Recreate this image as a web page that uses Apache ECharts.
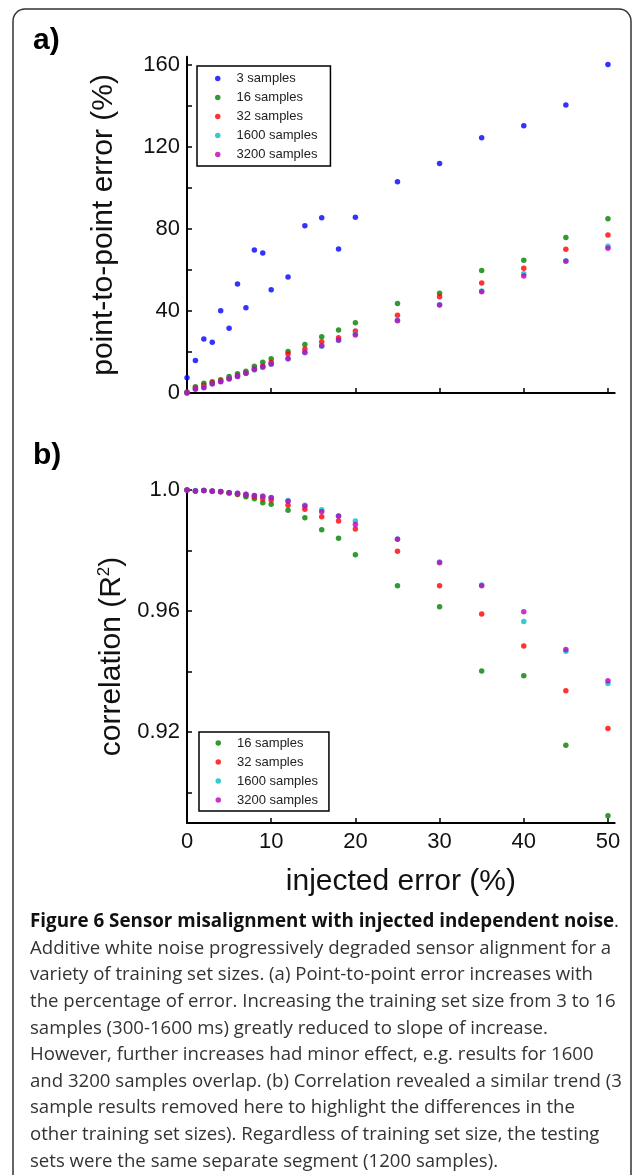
<!DOCTYPE html>
<html>
<head>
<meta charset="utf-8">
<script src="https://cdn.jsdelivr.net/npm/echarts@6/dist/echarts.min.js"></script>
<style>
html,body{margin:0;padding:0;background:#fff;}
#chart{width:634px;height:1175px;}
</style>
</head>
<body>
<div id="chart"></div>
<script>
// injected error (%) values
const injected = [0,1,2,3,4,5,6,7,8,9,10,12,14,16,18,20,25,30,35,40,45,50];

// panel a: point-to-point error (%)
const errA3    = [7.5,15.8,26.3,24.7,40.1,31.6,53.2,41.6,69.8,68.3,50.4,56.6,81.6,85.5,70.2,85.7,103.1,112.0,124.5,130.4,140.5,160.3];
const errA16   = [0.5,3.0,4.7,5.5,6.5,8.0,9.4,10.6,13.0,15.0,16.7,20.2,23.7,27.5,30.7,34.3,43.6,48.6,59.7,64.7,75.9,85.0];
const errA32   = [0.3,2.5,3.8,5.0,6.0,7.2,8.5,9.8,11.5,13.0,15.0,19.0,21.5,25.0,27.0,30.2,37.9,47.0,53.7,60.8,70.1,77.1];
const errA1600 = [0,1.8,2.8,4.4,5.6,6.9,8.1,9.6,11.2,12.5,14.0,16.6,19.6,22.8,25.6,28.8,35.5,43.0,49.8,58.2,64.5,71.6];
const errA3200 = [0,1.9,2.6,4.5,5.5,6.8,8.0,9.6,11.7,12.8,14.2,16.8,19.9,23.1,25.9,28.3,35.2,42.9,49.4,57.1,64.3,70.6];

// panel b: correlation (R^2)
const corB16   = [1.0,0.9997,0.9998,0.9996,0.9994,0.9990,0.9985,0.9978,0.9971,0.9958,0.9953,0.9933,0.9908,0.9869,0.9841,0.9786,0.9684,0.9614,0.9402,0.9386,0.9157,0.8924];
const corB32   = [1.0,0.9997,0.9998,0.9996,0.9994,0.9991,0.9987,0.9983,0.9978,0.9970,0.9967,0.9950,0.9936,0.9912,0.9898,0.9871,0.9798,0.9684,0.9590,0.9485,0.9337,0.9212];
const corB1600 = [1.0,0.9998,0.9998,0.9997,0.9995,0.9992,0.9989,0.9986,0.9982,0.9979,0.9975,0.9965,0.9950,0.9935,0.9915,0.9898,0.9838,0.9762,0.9686,0.9566,0.9467,0.9361];
const corB3200 = [1.0,0.9997,0.9998,0.9997,0.9995,0.9991,0.9989,0.9986,0.9982,0.9979,0.9974,0.9963,0.9947,0.9928,0.9913,0.9886,0.9837,0.9760,0.9684,0.9598,0.9473,0.9370];

// tick values / labels
const xTicks = [0,10,20,30,40,50];
const yTicksA = [0,20,40,60,80,100,120,140,160];
const yLabelsA = [0,40,80,120,160];
const yTicksB = [0.90,0.92,0.94,0.96,0.98,1.0];
const yLabelsB = [0.92,0.96,1.0];

const namesA = ['3 samples','16 samples','32 samples','1600 samples','3200 samples'];
const namesB = ['16 samples','32 samples','1600 samples','3200 samples'];
const colors = {'3 samples':'#0000ff','16 samples':'#008000','32 samples':'#ff0000','1600 samples':'#00bfbf','3200 samples':'#bf00bf'};

const captionTitle = 'Figure 6 Sensor misalignment with injected independent noise';
const caption = [
  'Additive white noise progressively degraded sensor alignment for a',
  'variety of training set sizes. (a) Point-to-point error increases with',
  'the percentage of error. Increasing the training set size from 3 to 16',
  'samples (300-1600 ms) greatly reduced to slope of increase.',
  'However, further increases had minor effect, e.g. results for 1600',
  'and 3200 samples overlap. (b) Correlation revealed a similar trend (3',
  'sample results removed here to highlight the differences in the',
  'other training set sizes). Regardless of training set size, the testing',
  'sets were the same separate segment (1200 samples).'
];

const pair = arr => injected.map((x,i)=>[x,arr[i]]);
const AF = 'Liberation Sans, Arial, sans-serif';

function axisCommon(){
  return {
    type:'value',
    axisLine:{show:true,onZero:false,lineStyle:{color:'#000',width:2}},
    splitLine:{show:false},
  };
}

const seriesA = [errA3,errA16,errA32,errA1600,errA3200].map((d,i)=>({
  name:namesA[i], type:'scatter', xAxisIndex:0, yAxisIndex:0, symbolSize:5.5,
  itemStyle:{color:colors[namesA[i]]}, data:pair(d), clip:false
}));
const seriesB = [corB16,corB32,corB1600,corB3200].map((d,i)=>({
  name:namesB[i], type:'scatter', xAxisIndex:1, yAxisIndex:1, symbolSize:5.5,
  itemStyle:{color:colors[namesB[i]]}, data:pair(d), clip:false
}));

const legendCommon = {
  orient:'vertical', icon:'circle', itemWidth:5.5, itemHeight:5.5, itemGap:6,
  backgroundColor:'#fff', borderColor:'#000', borderWidth:1.5, borderRadius:0,
  textStyle:{fontFamily:AF,fontSize:13,color:'#222',lineHeight:13,padding:[0,0,0,11]},
  selectedMode:false
};

const capTop = 948.6, capStep = 26.6;
const graphics = [
  {type:'rect', shape:{x:13,y:9,width:618,height:1220,r:12}, style:{fill:'none',stroke:'#333',lineWidth:1.5}, z:-1},
  {type:'text', left:33, top:26, style:{text:'a)', font:'bold 30px Liberation Sans, Arial, sans-serif', fill:'#000'}},
  {type:'text', left:33, top:441, style:{text:'b)', font:'bold 30px Liberation Sans, Arial, sans-serif', fill:'#000'}},
  {type:'text', x:30, y:922, style:{
    text:'{b|' + captionTitle + '}.',
    verticalAlign:'middle', font:'18.5px Open Sans, sans-serif', fill:'#222',
    rich:{b:{fontWeight:'bold', fontFamily:'Open Sans, sans-serif', fontSize:18.8, fill:'#111'}}
  }}
];
caption.forEach((line,i)=>{
  graphics.push({type:'text', x:30, y:capTop+i*capStep, style:{
    text:line, verticalAlign:'middle', font:'18.6px Open Sans, sans-serif', fill:'#333'
  }});
});

const option = {
  backgroundColor:'#fff',
  animation:false,
  grid:[
    {left:187, top:56.8, width:427.7, height:336.2},
    {left:187, top:490, width:427.7, height:333}
  ],
  xAxis:[
    Object.assign(axisCommon(),{gridIndex:0,min:0,max:50.8,
      axisTick:{show:true,inside:true,length:5,customValues:xTicks,lineStyle:{color:'#000',width:1.5}},
      axisLabel:{show:false}}),
    Object.assign(axisCommon(),{gridIndex:1,min:0,max:50.8,
      axisTick:{show:true,inside:true,length:5,customValues:xTicks,lineStyle:{color:'#000',width:1.5}},
      axisLabel:{show:true,customValues:xTicks,fontFamily:AF,fontSize:22,color:'#111',margin:8},
      name:'injected error (%)', nameLocation:'middle', nameGap:44,
      nameTextStyle:{fontFamily:AF,fontSize:30,color:'#111'}})
  ],
  yAxis:[
    Object.assign(axisCommon(),{gridIndex:0,min:0,max:164,
      axisTick:{show:true,inside:true,length:5,customValues:yTicksA,lineStyle:{color:'#000',width:1.5}},
      axisLabel:{show:true,customValues:yLabelsA,fontFamily:AF,fontSize:22,color:'#111',margin:7},
      name:'point-to-point error (%)', nameLocation:'middle', nameGap:68, nameRotate:90,
      nameTextStyle:{fontFamily:AF,fontSize:30,color:'#111'}}),
    Object.assign(axisCommon(),{gridIndex:1,min:0.89,max:1.0,
      axisTick:{show:true,inside:true,length:5,customValues:yTicksB,lineStyle:{color:'#000',width:1.5}},
      axisLabel:{show:true,customValues:yLabelsB,fontFamily:AF,fontSize:22,color:'#111',margin:7,
        formatter:v=> (Math.abs(v-1)<1e-9 ? '1.0' : v.toFixed(2))},
      name:'correlation (R{sup|2})', nameLocation:'middle', nameGap:58, nameRotate:90,
      nameTextStyle:{fontFamily:AF,fontSize:30,color:'#111',
        rich:{sup:{fontFamily:AF,fontSize:17,color:'#111',verticalAlign:'top',padding:[0,0,12,0]}}}})
  ],
  legend:[
    Object.assign({},legendCommon,{data:namesA,left:197,top:66,padding:[6,13,5,18]}),
    Object.assign({},legendCommon,{data:namesB,left:199,top:732,padding:[4.5,11,4.5,16.5]})
  ],
  series: seriesA.concat(seriesB),
  graphic: graphics
};

const chart = echarts.init(document.getElementById('chart'),null,{renderer:'canvas'});
chart.setOption(option);
</script>
</body>
</html>
